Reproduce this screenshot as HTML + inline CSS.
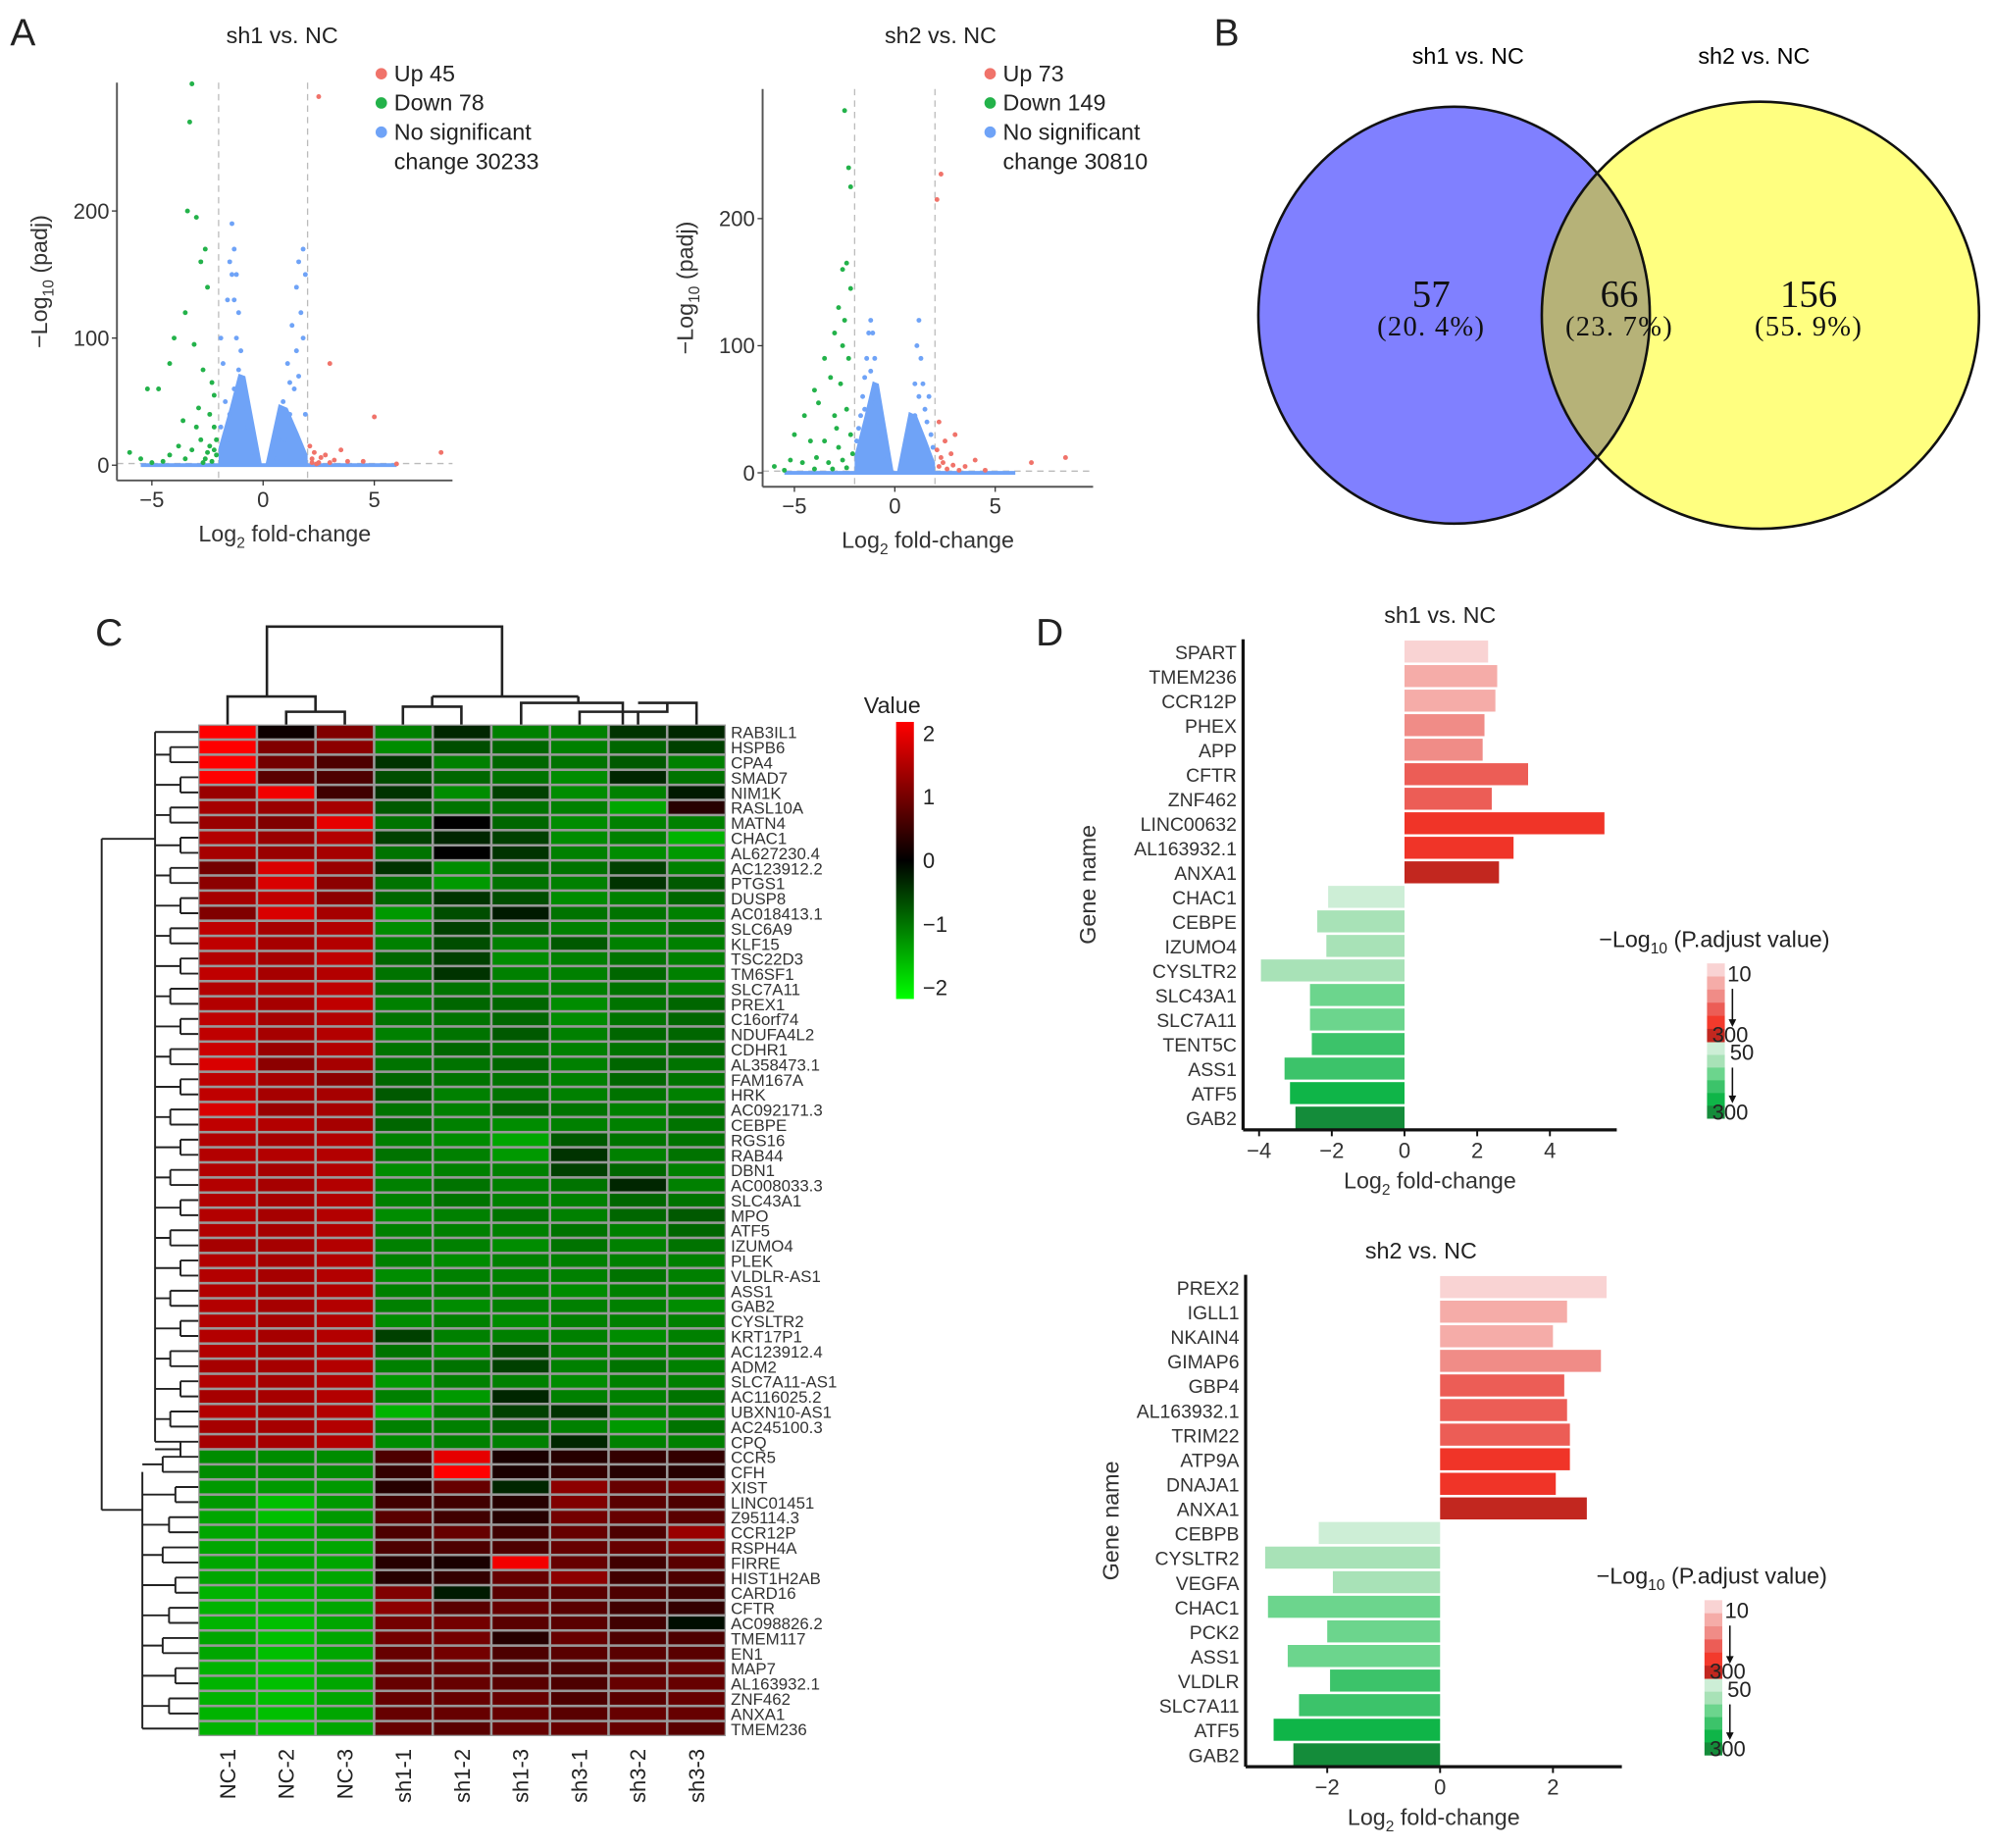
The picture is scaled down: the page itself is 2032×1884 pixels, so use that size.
<!DOCTYPE html>
<html><head><meta charset="utf-8"><style>
html,body{margin:0;padding:0;background:#fff;}
svg{display:block;font-family:"Liberation Sans",Arial,sans-serif;}
</style></head><body>
<svg id="fig" width="2032" height="1884" viewBox="0 0 1568 1454" preserveAspectRatio="none" xmlns="http://www.w3.org/2000/svg">
<rect width="1568" height="1454" fill="#fff"/>
<g font-size="30" fill="#222">
<text x="8" y="36">A</text>
<text x="955" y="36">B</text>
<text x="75" y="508">C</text>
<text x="815" y="508">D</text>
</g>
<g id="volc"></g>
<g id="venn">
<defs><clipPath id="c1"><ellipse cx="1144" cy="248" rx="154" ry="164"/></clipPath></defs>
<ellipse cx="1144" cy="248" rx="154" ry="164" fill="#8080ff"/>
<ellipse cx="1385" cy="248" rx="172" ry="168" fill="#ffff80"/>
<ellipse cx="1385" cy="248" rx="172" ry="168" fill="#b6b278" clip-path="url(#c1)"/>
<ellipse cx="1144" cy="248" rx="154" ry="164" fill="none" stroke="#111" stroke-width="2"/>
<ellipse cx="1385" cy="248" rx="172" ry="168" fill="none" stroke="#111" stroke-width="2"/>
<text x="1155" y="50" font-size="18" text-anchor="middle">sh1 vs. NC</text>
<text x="1380" y="50" font-size="18" text-anchor="middle">sh2 vs. NC</text>
<g font-family="'Liberation Serif','Noto Serif CJK SC',serif" text-anchor="middle" fill="#111">
<text x="1126" y="241" font-size="30">57</text>
<text x="1126" y="264" font-size="22" letter-spacing="1">(20. 4%)</text>
<text x="1274" y="241" font-size="30">66</text>
<text x="1274" y="264" font-size="22" letter-spacing="1">(23. 7%)</text>
<text x="1423" y="241" font-size="30">156</text>
<text x="1423" y="264" font-size="22" letter-spacing="1">(55. 9%)</text>
</g>
</g>
<g id="heat"></g>
<g id="bars"></g>
</svg>
<script>
// ---------- Volcano data (log2FC, -log10 padj) ----------
const v1Up = [[2.5,290],[3,80],[5,38],[3.5,12],[8,10],[4.5,3],[2.2,5],[2.8,8],[2.5,2],[3.2,4],[6,1],[2.1,15],[2.3,10],[2.6,6],[3.8,3],[2.4,1],[3,2],[2.2,2]];
const v1Down = [[-3.2,300],[-3.3,270],[-3.4,200],[-3,195],[-2.6,170],[-2.8,160],[-2.5,140],[-3.5,120],[-5.2,60],[-4.7,60],[-4.2,80],[-3.1,95],[-4,100],[-2.7,75],[-2.2,55],[-2.4,40],[-3,30],[-2.8,20],[-6,10],[-5.5,5],[-4.5,3],[-3.5,5],[-2.5,10],[-2.1,20],[-2.2,30],[-2.6,5],[-3.8,15],[-4.2,8],[-2.3,3],[-2.9,45],[-2.3,65],[-3.6,35],[-2.1,8],[-2.4,15],[-3.2,12],[-2.7,2],[-2.2,12],[-5,2]];
const v1Ns = [[-0.5,10],[-0.7,30],[-0.9,60],[-1.0,90],[-1.1,120],[-1.2,150],[-1.3,170],[-1.4,190],[-1.5,160],[-1.2,100],[-1.6,130],[-1.8,80],[-1.7,50],[-1.5,40],[-1.3,60],[-1.9,30],[-1.6,20],[-1.4,150],[-1.3,130],[-1.1,75],[-0.8,45],[0.7,20],[0.9,50],[1.1,80],[1.3,110],[1.5,140],[1.6,160],[1.8,170],[1.9,150],[1.7,120],[1.4,60],[1.2,40],[1.0,20],[0.6,5],[1.5,90],[1.8,100],[1.6,70],[1.9,40],[1.2,65],[-1.9,100]];
const v2Up = [[2.3,235],[2.1,215],[8.5,12],[6.8,8],[3,30],[2.5,25],[2.2,40],[2.8,15],[2.4,8],[3.5,5],[4,10],[2.1,18],[2.6,3],[3.2,2],[2.3,12],[4.5,2],[2.9,6],[2.2,5]];
const v2Down = [[-2.5,285],[-2.3,240],[-2.2,225],[-2.4,165],[-2.6,160],[-2.2,145],[-2.8,130],[-2.5,120],[-3,110],[-3.5,90],[-4,65],[-3.2,75],[-2.7,70],[-4.5,45],[-3.8,55],[-3,45],[-2.4,50],[-5,30],[-4.2,25],[-3.5,25],[-2.8,20],[-2.2,30],[-6,5],[-5.2,10],[-4.6,8],[-3.9,12],[-3.3,8],[-2.6,10],[-2.1,15],[-2.4,4],[-3.1,3],[-5.5,2],[-4,3],[-2.9,35],[-2.3,90],[-2.6,100]];
const v2Ns = [[-0.5,10],[-0.7,30],[-0.9,60],[-1.0,90],[-1.1,110],[-1.2,120],[-1.3,110],[-1.4,90],[-1.5,75],[-1.6,60],[-1.7,45],[-1.8,35],[-1.9,25],[-1.2,80],[-1.0,55],[-1.5,50],[-0.8,40],[0.6,10],[0.8,40],[1.0,70],[1.1,100],[1.2,120],[1.3,90],[1.4,70],[1.5,50],[1.6,40],[1.8,30],[1.9,20],[1.2,60],[1.0,45],[1.7,60]];

function mk(tag, attrs, parent){const e=document.createElementNS('http://www.w3.org/2000/svg',tag);for(const k in attrs)e.setAttribute(k,attrs[k]);if(parent)parent.appendChild(e);return e;}
function txt(parent,x,y,s,attrs){const t=mk('text',Object.assign({x:x,y:y},attrs||{}),parent);t.textContent=s;return t;}

function volcano(cfg){
  const g=mk('g',{},document.getElementById('volc'));
  
  
  const sx=v=>cfg.x0+v*cfg.kx, sy=v=>cfg.y0-v*cfg.ky;
  [-2,2].forEach(t=>mk('line',{x1:sx(t),x2:sx(t),y1:cfg.top,y2:cfg.bot,stroke:'#bbb','stroke-dasharray':'5,4','stroke-width':1},g));
  mk('line',{x1:cfg.left,x2:cfg.right,y1:sy(1.3),y2:sy(1.3),stroke:'#bbb','stroke-dasharray':'5,4'},g);
  // dense cloud
  mk('path',{d:`M${sx(-2)},${sy(0)} L${sx(-2)},${sy(14)} L${sx(-1.5)},${sy(45)} L${sx(-1.1)},${sy(72)} L${sx(-0.8)},${sy(70)} L${sx(-0.05)},${sy(0)}Z`,fill:'#6fa3f7'},g);
  mk('path',{d:`M${sx(0.1)},${sy(0)} L${sx(0.7)},${sy(48)} L${sx(1.1)},${sy(45)} L${sx(1.6)},${sy(25)} L${sx(2)},${sy(8)} L${sx(2)},${sy(0)}Z`,fill:'#6fa3f7'},g);
  mk('line',{x1:sx(-5.5),x2:sx(6),y1:sy(0),y2:sy(0),stroke:'#6fa3f7','stroke-width':3},g);
  const pts=(arr,col,nm)=>arr.forEach(p=>{const c=mk('circle',{cx:sx(p[0]),cy:sy(p[1]),r:1.9,fill:col},g);
    
    });
  pts(cfg.ns,'#6fa3f7','point-nosig');pts(cfg.up,'#f0736a','point-up');pts(cfg.down,'#23b24a','point-down');
  mk('line',{x1:cfg.left,x2:cfg.left,y1:cfg.top,y2:cfg.bot,stroke:'#555','stroke-width':1.5},g);
  mk('line',{x1:cfg.left,x2:cfg.right,y1:cfg.bot,y2:cfg.bot,stroke:'#555','stroke-width':1.5},g);
  [-5,0,5].forEach(t=>{mk('line',{x1:sx(t),x2:sx(t),y1:cfg.bot,y2:cfg.bot+4,stroke:'#333'},g);
    const l=txt(g,sx(t),cfg.bot+21,t<0?'−'+(-t):''+t,{'font-size':17,'text-anchor':'middle',fill:'#333'});
    
    });
  [0,100,200].forEach(t=>{mk('line',{x1:cfg.left-4,x2:cfg.left,y1:sy(t),y2:sy(t),stroke:'#333'},g);
    const l=txt(g,cfg.left-6,sy(t)+6,''+t,{'font-size':17,'text-anchor':'end',fill:'#333'});
    
    });
  const xt=txt(g,(cfg.left+cfg.right)/2,cfg.bot+48,'',{'font-size':18,'text-anchor':'middle',fill:'#333'});
  xt.innerHTML='Log<tspan font-size="12" dy="5">2</tspan><tspan dy="-5"> fold-change</tspan>';
  
  
  const yt=txt(g,0,0,'',{'font-size':18,'text-anchor':'middle',fill:'#333',transform:`translate(${cfg.left-55},${(cfg.top+cfg.bot)/2}) rotate(-90)`});
  yt.innerHTML='−Log<tspan font-size="12" dy="5">10</tspan><tspan dy="-5"> (padj)</tspan>';
  
  
  const tt=txt(g,cfg.titleX,34,cfg.title,{'font-size':18,'text-anchor':'middle',fill:'#222'});
  
  
  const lg=[['#f0736a','Up '+cfg.nUp],['#23b24a','Down '+cfg.nDown],['#6fa3f7','No significant']];
  lg.forEach((l,i)=>{mk('circle',{cx:cfg.lx,cy:58+i*23,r:4.5,fill:l[0]},g);
    const t=txt(g,cfg.lx+10,64+i*23,l[1],{'font-size':18,fill:'#222'});
    
    });
  txt(g,cfg.lx+10,133,'change '+cfg.nNs,{'font-size':18,fill:'#222'});
}
volcano({name:'volcano-sh1',x0:207,kx:17.5,y0:366,ky:1.0,left:92,right:356,top:65,bot:378,title:'sh1 vs. NC',titleX:222,lx:300,nUp:45,nDown:78,nNs:30233,up:v1Up,down:v1Down,ns:v1Ns});
volcano({name:'volcano-sh2',x0:704,kx:15.8,y0:372,ky:1.0,left:600,right:860,top:70,bot:383,title:'sh2 vs. NC',titleX:740,lx:779,nUp:73,nDown:149,nNs:30810,up:v2Up,down:v2Down,ns:v2Ns});

// ---------- Heatmap data ----------
const hmCols = ['NC-1','NC-2','NC-3','sh1-1','sh1-2','sh1-3','sh3-1','sh3-2','sh3-3'];
const hmGenes = ['RAB3IL1','HSPB6','CPA4','SMAD7','NIM1K','RASL10A','MATN4','CHAC1','AL627230.4','AC123912.2','PTGS1','DUSP8','AC018413.1','SLC6A9','KLF15','TSC22D3','TM6SF1','SLC7A11','PREX1','C16orf74','NDUFA4L2','CDHR1','AL358473.1','FAM167A','HRK','AC092171.3','CEBPE','RGS16','RAB44','DBN1','AC008033.3','SLC43A1','MPO','ATF5','IZUMO4','PLEK','VLDLR-AS1','ASS1','GAB2','CYSLTR2','KRT17P1','AC123912.4','ADM2','SLC7A11-AS1','AC116025.2','UBXN10-AS1','AC245100.3','CPQ','CCR5','CFH','XIST','LINC01451','Z95114.3','CCR12P','RSPH4A','FIRRE','HIST1H2AB','CARD16','CFTR','AC098826.2','TMEM117','EN1','MAP7','AL163932.1','ZNF462','ANXA1','TMEM236'];
const hmValues = [
[2.0,0.1,1.0,-1.0,-0.3,-1.0,-1.0,-0.4,-0.3],
[2.0,1.0,1.1,-1.1,-0.6,-0.8,-1.0,-0.8,-0.5],
[2.0,0.9,0.6,-0.4,-1.0,-0.8,-0.9,-0.7,-1.0],
[2.0,0.7,0.6,-0.6,-0.8,-0.9,-1.1,-0.3,-0.9],
[1.2,1.9,0.5,-0.4,-1.1,-0.5,-1.1,-1.0,-0.2],
[1.3,1.2,1.3,-0.7,-0.9,-0.9,-1.0,-1.3,0.3],
[1.2,1.0,1.8,-0.9,0.0,-0.8,-1.1,-1.0,-1.0],
[1.4,1.2,1.4,-0.5,-0.3,-0.5,-1.1,-1.0,-1.4],
[1.3,1.2,1.3,-0.9,0.0,-0.4,-1.0,-1.1,-1.2],
[0.9,1.7,1.2,-0.4,-1.1,-0.8,-0.9,-0.5,-1.0],
[1.1,1.7,1.1,-0.9,-1.2,-0.9,-1.0,-0.4,-0.7],
[1.3,1.5,1.1,-0.8,-0.4,-0.6,-1.1,-1.0,-0.8],
[1.0,1.7,1.3,-1.2,-0.6,-0.2,-0.9,-0.9,-1.0],
[1.5,1.3,1.4,-1.1,-0.5,-0.8,-1.0,-1.0,-0.9],
[1.5,1.3,1.4,-1.0,-0.6,-1.0,-0.7,-1.0,-1.0],
[1.4,1.3,1.5,-0.8,-0.5,-1.1,-1.0,-0.9,-1.0],
[1.5,1.3,1.4,-0.9,-0.4,-1.0,-1.0,-0.8,-1.0],
[1.4,1.4,1.5,-0.9,-0.9,-1.0,-1.0,-0.9,-1.0],
[1.4,1.3,1.5,-1.0,-0.8,-0.8,-1.1,-0.9,-0.8],
[1.5,1.3,1.4,-0.9,-0.9,-0.8,-1.1,-0.9,-0.8],
[1.5,1.3,1.4,-1.0,-0.9,-0.7,-1.0,-0.8,-0.8],
[1.6,1.2,1.4,-0.9,-0.8,-0.9,-1.0,-0.9,-0.8],
[1.7,1.1,1.3,-0.9,-0.9,-0.8,-1.0,-0.8,-0.9],
[1.5,1.3,1.1,-0.8,-0.9,-0.9,-1.0,-0.8,-0.9],
[1.5,1.3,1.3,-0.7,-1.0,-0.9,-1.0,-0.9,-1.0],
[1.7,1.2,1.3,-0.9,-1.0,-0.8,-0.9,-1.0,-0.9],
[1.5,1.4,1.3,-0.8,-1.0,-1.1,-1.0,-1.0,-0.9],
[1.4,1.3,1.4,-1.0,-1.1,-1.3,-0.7,-0.9,-0.9],
[1.4,1.4,1.4,-0.9,-1.0,-1.2,-0.4,-1.0,-0.9],
[1.4,1.3,1.4,-1.1,-1.0,-1.0,-0.5,-0.8,-1.0],
[1.4,1.3,1.4,-1.0,-0.9,-1.0,-0.9,-0.3,-1.0],
[1.4,1.3,1.4,-1.0,-0.9,-1.0,-1.0,-0.8,-0.9],
[1.4,1.3,1.4,-1.1,-1.0,-0.9,-1.0,-0.8,-0.7],
[1.4,1.3,1.4,-1.0,-1.0,-1.0,-0.9,-1.0,-0.8],
[1.3,1.3,1.4,-1.0,-1.0,-1.1,-0.9,-1.0,-0.9],
[1.4,1.3,1.4,-1.0,-1.1,-1.0,-1.0,-1.0,-1.0],
[1.4,1.3,1.4,-1.1,-1.0,-1.0,-1.0,-0.9,-1.0],
[1.4,1.3,1.4,-1.0,-1.0,-1.0,-1.1,-1.0,-1.0],
[1.4,1.3,1.4,-1.0,-1.1,-1.0,-1.0,-1.0,-1.1],
[1.4,1.3,1.4,-1.1,-1.0,-1.1,-1.0,-1.0,-1.0],
[1.4,1.3,1.4,-0.5,-1.0,-1.0,-1.0,-1.1,-1.0],
[1.4,1.3,1.4,-0.9,-1.1,-0.6,-1.0,-1.0,-1.0],
[1.3,1.3,1.4,-1.0,-0.9,-0.5,-1.0,-0.9,-1.0],
[1.4,1.3,1.4,-1.2,-1.0,-1.0,-1.1,-1.0,-1.0],
[1.3,1.3,1.4,-1.0,-1.2,-0.3,-1.0,-1.0,-0.9],
[1.4,1.3,1.4,-1.4,-1.0,-0.5,-0.4,-1.0,-1.0],
[1.3,1.3,1.4,-1.0,-1.0,-0.8,-1.0,-1.2,-0.9],
[1.3,1.3,1.4,-1.1,-1.0,-1.0,-0.3,-1.0,-1.0],
[-1.1,-1.1,-1.1,0.6,1.8,0.2,0.3,0.4,0.4],
[-1.1,-1.1,-1.1,0.4,2.0,0.2,0.4,0.3,0.3],
[-1.2,-1.2,-1.2,0.3,0.8,-0.3,1.1,0.8,0.9],
[-1.2,-1.5,-1.2,0.5,0.5,0.3,1.0,0.7,0.6],
[-1.3,-1.5,-1.2,0.7,0.5,0.3,0.9,0.8,0.7],
[-1.3,-1.3,-1.2,0.6,0.8,0.5,0.8,0.6,1.2],
[-1.3,-1.3,-1.3,0.6,0.6,0.6,0.8,0.8,1.0],
[-1.3,-1.3,-1.3,0.3,0.2,1.9,0.8,0.5,0.7],
[-1.3,-1.3,-1.3,0.3,0.4,0.8,1.1,0.5,0.6],
[-1.4,-1.4,-1.3,1.0,-0.2,0.7,0.7,0.6,0.5],
[-1.4,-1.4,-1.3,1.1,0.7,0.8,0.7,0.5,0.4],
[-1.4,-1.5,-1.3,0.9,0.9,0.7,0.7,0.5,-0.1],
[-1.3,-1.5,-1.3,0.9,0.9,0.3,0.8,0.6,0.6],
[-1.3,-1.5,-1.3,0.8,0.9,0.6,0.7,0.7,0.7],
[-1.4,-1.5,-1.3,0.8,0.8,0.6,0.6,0.7,0.8],
[-1.4,-1.5,-1.3,0.8,0.8,0.7,0.6,0.8,0.8],
[-1.4,-1.5,-1.3,0.8,0.8,0.8,0.6,0.7,0.8],
[-1.4,-1.5,-1.3,0.8,0.8,0.8,0.7,0.8,0.8],
[-1.4,-1.5,-1.3,0.8,0.7,0.8,0.8,0.8,0.7]
];
const cbTicks = [2,1,0,-1,-2];

(function(){
  const g=document.getElementById('heat');
  
  
  const X0=156,X1=571,Y0=570,Y1=1366;
  const cw=(X1-X0)/hmCols.length, rh=(Y1-Y0)/hmGenes.length;
  const col=v=>{v=Math.max(-2,Math.min(2,v));return v>=0?`rgb(${Math.round(v/2*255)},0,0)`:`rgb(0,${Math.round(-v/2*255)},0)`;};
  mk('rect',{x:X0,y:Y0,width:X1-X0,height:Y1-Y0,fill:'#999'},g);
  hmValues.forEach((row,r)=>row.forEach((v,c)=>{
    const cell=mk('rect',{x:X0+c*cw+1,y:Y0+r*rh+1,width:cw-2,height:rh-2,fill:col(v)},g);
    
    
  }));
  hmGenes.forEach((s,r)=>{const t=txt(g,X1+4,Y0+r*rh+rh/2+5,s,{'font-size':13,fill:'#333'});
    
    });
  hmCols.forEach((s,c)=>{const t=txt(g,0,0,s,{'font-size':17,fill:'#222','text-anchor':'end',transform:`translate(${X0+c*cw+cw/2+6},${Y1+10}) rotate(-90)`});
    
    });
  const cx=i=>X0+cw*(i+0.5);
  const d=`M${cx(0)},${Y0} V548 H${(cx(1)+cx(2))/2} V${Y0-10} M${cx(1)},${Y0} V${Y0-10} H${cx(2)} V${Y0}
  M210,548 V493 H395 V548 M340,548 H455 M340,548 V556 M317,${Y0} V556 H363 V${Y0} M455,548 V553 M410,${Y0} V553 H490 V${Y0}
  M456,${Y0} V560 H525 V553 M502,${Y0} V560 M548,${Y0} V553 H502`;
  const dp=mk('path',{d:d,fill:'none',stroke:'#222','stroke-width':2},g);
  
  
  const ry=i=>Y0+rh*(i+0.5);
  let rd=`M80,660 V1188 M80,660 H122 M80,1188 H112 M122,${ry(0)} V${ry(30)} M122,${ry(0)} H${X0} M112,${ry(49)} V${ry(66)}`;
  for(let i=1;i<48;i+=2){rd+=` M${130+(i%4)*4},${ry(i)} V${ry(i+1)} M${130+(i%4)*4},${ry(i)} H${X0} M${130+(i%4)*4},${ry(i+1)} H${X0} M122,${ry(i)+rh/2} H${130+(i%4)*4}`;}
  rd+=` M122,${ry(30)} V${ry(47)} M122,${ry(47)} H${X0}`;
  for(let i=48;i<66;i+=2){rd+=` M${128+(i%3)*5},${ry(i)} V${ry(i+1)} M${128+(i%3)*5},${ry(i)} H${X0} M${128+(i%3)*5},${ry(i+1)} H${X0} M112,${ry(i)+rh/2} H${128+(i%3)*5}`;}
  rd+=` M112,${ry(66)} H${X0}`;
  const rp=mk('path',{d:rd,fill:'none',stroke:'#222','stroke-width':1.5},g);
  
  
  const defs=mk('defs',{},g);
  const lgd=mk('linearGradient',{id:'hmg',x1:0,y1:0,x2:0,y2:1},defs);
  [['0','#ff0000'],['0.5','#000000'],['1','#00ff00']].forEach(s=>mk('stop',{offset:s[0],'stop-color':s[1]},lgd));
  const cb=mk('rect',{x:705,y:568,width:14,height:218,fill:'url(#hmg)'},g);
  
  
  const vt=txt(g,702,561,'Value',{'font-size':18,fill:'#222','text-anchor':'middle'});
  
  
  cbTicks.forEach(t=>{const y=568+9+(2-t)/4*(218-18);
    const l=txt(g,726,y+6,t<0?'−'+(-t):''+t,{'font-size':17,fill:'#222'});
    
    });
})();

// ---------- Bar charts (Panel D) ----------
const d1Genes = ['SPART','TMEM236','CCR12P','PHEX','APP','CFTR','ZNF462','LINC00632','AL163932.1','ANXA1','CHAC1','CEBPE','IZUMO4','CYSLTR2','SLC43A1','SLC7A11','TENT5C','ASS1','ATF5','GAB2'];
const d1FC = [2.3,2.55,2.5,2.2,2.15,3.4,2.4,5.5,3.0,2.6,-2.1,-2.4,-2.15,-3.95,-2.6,-2.6,-2.55,-3.3,-3.15,-3.0];
const d1Sig = [10,40,45,80,85,160,170,250,260,300,50,55,90,95,150,155,200,210,260,300];
const d2Genes = ['PREX2','IGLL1','NKAIN4','GIMAP6','GBP4','AL163932.1','TRIM22','ATP9A','DNAJA1','ANXA1','CEBPB','CYSLTR2','VEGFA','CHAC1','PCK2','ASS1','VLDLR','SLC7A11','ATF5','GAB2'];
const d2FC = [2.95,2.25,2.0,2.85,2.2,2.25,2.3,2.3,2.05,2.6,-2.15,-3.1,-1.9,-3.05,-2.0,-2.7,-1.95,-2.5,-2.95,-2.6];
const d2Sig = [10,50,60,90,140,150,170,200,230,300,50,55,100,105,140,160,190,210,260,300];
const xTicks1 = [-4,-2,0,2,4];
const xTicks2 = [-2,0,2];

function redC(s){const p=[[10,[249,211,211]],[60,[245,172,168]],[120,[240,140,135]],[170,[236,93,86]],[260,[240,52,40]],[300,[194,39,31]]];return bin(s,p);}
function grnC(s){const p=[[50,[205,238,214]],[100,[168,226,183]],[160,[108,213,141]],[210,[60,195,106]],[270,[15,181,72]],[300,[20,140,58]]];return bin(s,p);}
function bin(s,p){for(const q of p){if(s<=q[0])return `rgb(${q[1].join(',')})`;}return `rgb(${p[p.length-1][1].join(',')})`;}

function barChart(cfg){
  const g=mk('g',{},document.getElementById('bars'));
  
  
  const sx=v=>cfg.x0+v*cfg.kx;
  const n=cfg.genes.length, step=(cfg.bot-cfg.top)/n;
  cfg.fc.forEach((v,i)=>{
    const y=cfg.top+i*step+1;
    const b=mk('rect',{x:Math.min(sx(0),sx(v)),y:y,width:Math.abs(sx(v)-sx(0)),height:step-2,fill:v>0?redC(cfg.sig[i]):grnC(cfg.sig[i])},g);
    
    
    const l=txt(g,cfg.left-5,y+step/2+5,cfg.genes[i],{'font-size':15,fill:'#333','text-anchor':'end'});
    
    
  });
  mk('line',{x1:cfg.left,x2:cfg.left,y1:cfg.top,y2:cfg.bot,stroke:'#111','stroke-width':2.5},g);
  mk('line',{x1:cfg.left,x2:cfg.right,y1:cfg.bot,y2:cfg.bot,stroke:'#111','stroke-width':2.5},g);
  cfg.ticks.forEach(t=>{mk('line',{x1:sx(t),x2:sx(t),y1:cfg.bot,y2:cfg.bot+5,stroke:'#111','stroke-width':1.5},g);
    const l=txt(g,sx(t),cfg.bot+22,t<0?'−'+(-t):''+t,{'font-size':17,fill:'#333','text-anchor':'middle'});
    
    });
  const xt=txt(g,(cfg.left+cfg.right)/2,cfg.bot+46,'',{'font-size':18,'text-anchor':'middle',fill:'#333'});
  xt.innerHTML='Log<tspan font-size="12" dy="5">2</tspan><tspan dy="-5"> fold-change</tspan>';
  
  
  const yt=txt(g,0,0,'Gene name',{'font-size':18,'text-anchor':'middle',fill:'#333',transform:`translate(${cfg.ylx},${(cfg.top+cfg.bot)/2}) rotate(-90)`});
  
  
  const tt=txt(g,cfg.titleX,cfg.top-13,cfg.title,{'font-size':18,'text-anchor':'middle',fill:'#222'});
  
  
  const L=mk('g',{},g);
  
  
  const lt=txt(L,cfg.legX,cfg.legY,'',{'font-size':18,fill:'#222'});
  lt.innerHTML='−Log<tspan font-size="12" dy="5">10</tspan><tspan dy="-5"> (P.adjust value)</tspan>';
  const reds=['#f9d3d3','#f5aca8','#f08c87','#ec5d56','#f33a2c','#c2271f'];
  const grns=['#cdeed6','#a8e2b7','#6cd58d','#3cc36a','#0fb548','#148c3a'];
  const bx=cfg.legX+85, by=cfg.legY+13;
  reds.forEach((c,i)=>mk('rect',{x:bx,y:by+i*10.3,width:14,height:10.5,fill:c},L));
  grns.forEach((c,i)=>mk('rect',{x:bx,y:by+62+i*10,width:14,height:10.2,fill:c},L));
  txt(L,bx+16,by+14,'10',{'font-size':17,fill:'#222'});
  txt(L,bx+4,by+62,'300',{'font-size':17,fill:'#222'});
  txt(L,bx+18,by+76,'50',{'font-size':17,fill:'#222'});
  txt(L,bx+4,by+123,'300',{'font-size':17,fill:'#222'});
  [[by+20,by+50],[by+82,by+110]].forEach(a=>{mk('line',{x1:bx+20,x2:bx+20,y1:a[0],y2:a[1]-4,stroke:'#111','stroke-width':1.2},L);
    mk('path',{d:`M${bx+17},${a[1]-6} L${bx+23},${a[1]-6} L${bx+20},${a[1]}Z`,fill:'#111'},L);});
}
barChart({name:'bar-chart-sh1',genes:d1Genes,fc:d1FC,sig:d1Sig,ticks:xTicks1,x0:1105,kx:28.6,left:978,right:1272,top:503,bot:889,ylx:862,titleX:1133,title:'sh1 vs. NC',legX:1258,legY:745});
barChart({name:'bar-chart-sh2',genes:d2Genes,fc:d2FC,sig:d2Sig,ticks:xTicks2,x0:1133,kx:44.4,left:980,right:1276,top:1003,bot:1390,ylx:880,titleX:1118,title:'sh2 vs. NC',legX:1256,legY:1246});
</script>
</body></html>
